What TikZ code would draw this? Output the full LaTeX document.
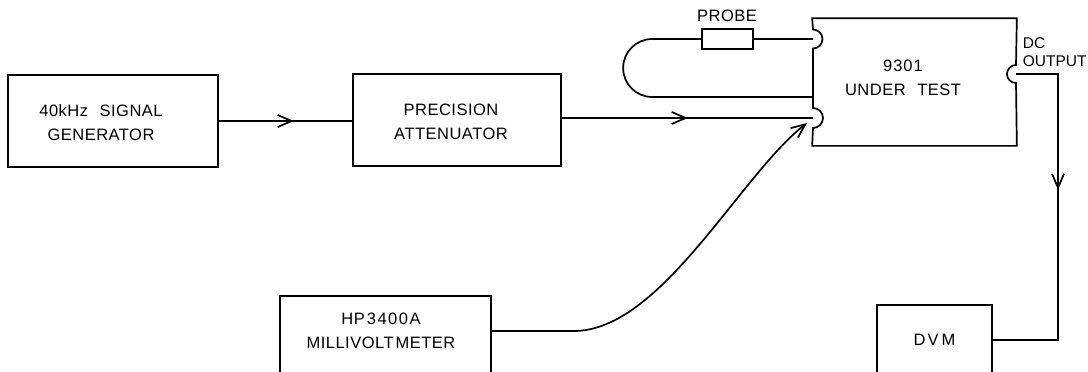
\documentclass[tikz,border=0pt]{standalone}
\usepackage{fontspec}
\setmainfont{Liberation Sans}[LetterSpace=3]
\usetikzlibrary{arrows.meta,decorations.markings,calc}

\tikzset{
  box/.style={draw, rectangle, inner sep=0pt},
  lbl/.style={font=\fontsize{16.5}{24}\selectfont, align=center, inner sep=0pt},
  barb/.tip={Straight Barb[length=14pt,width=12pt]},
  midarrow/.style={postaction={decorate},
    decoration={markings, mark=at position #1 with {\arrow{barb}}}},
}

\begin{document}
\begin{tikzpicture}[x=1pt, y=-1pt, line width=1.7pt]
\useasboundingbox (0,0) rectangle (1088,372);
\clip (0,0) rectangle (1088,372);

% signal source and attenuator
\node[box, minimum width=210pt, minimum height=92pt] (gen) at (113,121) {};
\node[lbl] (gentext) at (101,123) {40kHz\hspace{0.7em}SIGNAL\\GENERATOR};
\node[box, minimum width=208pt, minimum height=92pt] (att) at (457,120) {};
\node[lbl] (atttext) at (451,121.5) {PRECISION\\ATTENUATOR};

% device under test with its three pin notches
\node[inner sep=0pt, minimum width=203pt, minimum height=126pt] (dut) at (914.5,82) {};
\coordinate (pinprobe) at (813,39);
\coordinate (pinin) at (813,118);
\coordinate (pinout) at (1016,74);
\coordinate (ret) at (813,97);
\draw (dut.north west) -- (dut.north east)
  -- ($(pinout)+(0,-9)$) arc[start angle=270, end angle=90, radius=9]
  -- (dut.south east) -- (dut.south west)
  -- ($(pinin)+(0,10)$) arc[start angle=90, end angle=-90, radius=10]
  -- ($(pinprobe)+(0,9.5)$) arc[start angle=90, end angle=-90, radius=9.5]
  -- cycle;
\node[lbl] (duttext) at (903,77.5) {9\kern1pt 3\kern1pt 0\kern1pt 1\\UNDER\hspace{0.7em}TEST};
\node[font=\fontsize{15.5}{18}\selectfont\addfontfeature{LetterSpace=0},
      align=left, anchor=north west, inner sep=0pt]
  (dclbl) at (1022,37) {DC\\OUTPUT};

% probe loop
\node[box, minimum width=51pt, minimum height=20pt] (probe) at (727.5,39) {};
\node[lbl] (probelbl) at (727,16) {PROBE};
\draw (probe.east) -- (pinprobe);
\draw (probe.west) -- ++(-49,0) arc[start angle=270, end angle=90, radius=29] -- (ret);

% meters
\node[box, minimum width=211pt, minimum height=90pt] (mv) at (385.5,341) {};
\node[lbl] (mvtext) at (381,331) {HP\kern2pt 3\kern1.5pt 4\kern1.5pt 0\kern1.5pt 0\kern1.5pt A\\MILLIVOLT\kern2pt METER};
\node[box, lbl, minimum width=115pt, minimum height=70pt] (dvm) at (934.5,340) {D\kern2pt V\kern3pt M};
\coordinate (mvtip) at (807,123);
\coordinate (corner) at (1058,74);

% signal paths
\draw[midarrow=75pt] (gen.east) -- (gen.east -| att.west);
\draw[midarrow=126pt] (att.east |- pinin) -- (pinin);
\draw[-barb] (mv.east |- mvtext) -- ++(82,0) .. controls +(87,0) and (740,175) .. (mvtip);
\draw[midarrow=158pt] (pinout) -- (corner) |- (dvm.east);
\end{tikzpicture}
\end{document}
